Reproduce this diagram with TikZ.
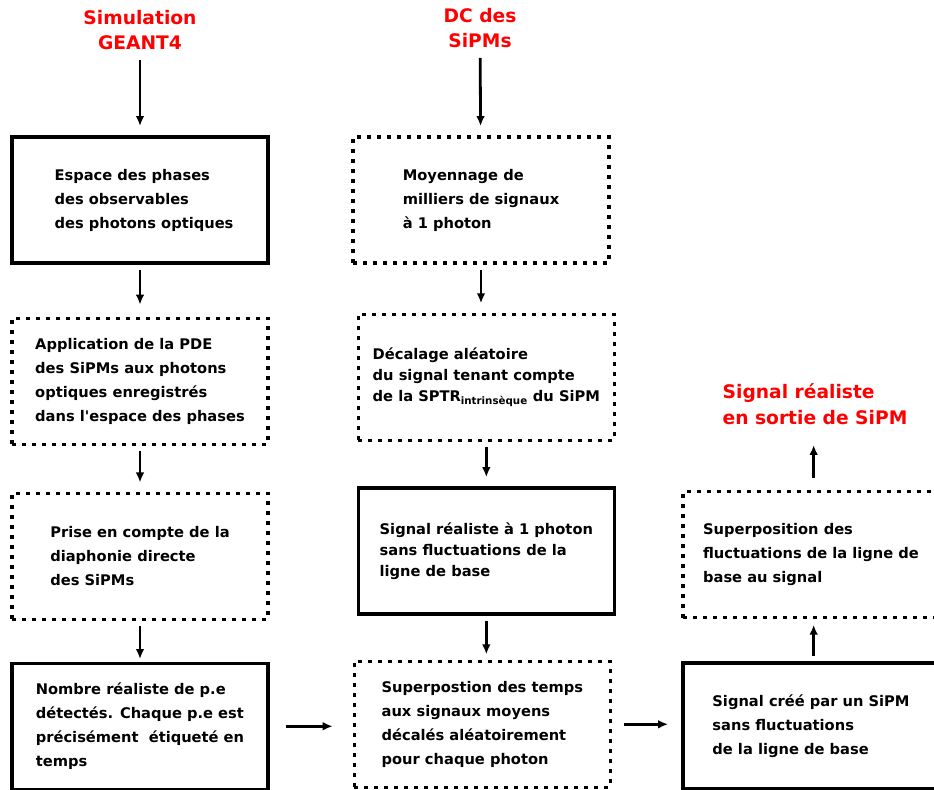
\documentclass[tikz,border=0pt]{standalone}
\usepackage{fontspec}
\setmainfont{DejaVu Sans}
\usepackage{xcolor}
\usetikzlibrary{arrows.meta, positioning}

\begin{document}
\begin{tikzpicture}[
    x=0.75pt, y=-0.75pt,
    node distance=34pt, font=\fontsize{11}{18}\selectfont\bfseries,
    stepbox/.style={draw, line width=2.4pt, minimum width=192pt, minimum height=94.5pt, align=left, inner sep=0pt},
    dotbox/.style={stepbox, dash pattern=on 3pt off 4.5pt},
    title/.style={text=red, font=\fontsize{14}{19}\selectfont\bfseries},
    >={Latex[length=7.5pt,width=6.5pt]}]
\useasboundingbox (0,0) rectangle (934,789);

% first column
\node[title, align=center] (geant) at (140,30) {Simulation\\GEANT4};
\node[stepbox] (espace) at (140,200) {\hspace*{6pt}Espace des phases\\\hspace*{6pt}des observables\\\hspace*{6pt}des photons optiques};
\node[dotbox, below=39pt of espace] (pde) {Application de la PDE\\des SiPMs aux photons\\optiques enregistrés\\dans l\textquotesingle espace des phases};
\node[dotbox, below=34.5pt of pde] (diaph) {Prise en compte de la\\diaphonie directe\\des SiPMs};
\node[stepbox, below=30.5pt of diaph] (nombre) {Nombre réaliste de p.e\\détectés. Chaque p.e est\\précisément~ étiqueté en\\temps};

% second column
\node[title, align=center] (dc) at (480,28) {DC des\\SiPMs};
\node[dotbox] (moy) at (481,200) {Moyennage de\\milliers de signaux\\à 1 photon};
\node[dotbox, below=36pt of moy, xshift=4pt, font=\fontsize{11}{16}\selectfont\bfseries] (decal) {Décalage aléatoire\\du signal tenant compte\\de la SPTR\textsubscript{intrinsèque} du SiPM};
\node[stepbox, below=33.5pt of decal, font=\fontsize{11}{15.5}\selectfont\bfseries] (unphot) {Signal réaliste à 1 photon\\sans fluctuations de la\\ligne de base};
\node[dotbox, below=33pt of unphot, xshift=-3pt] (temps) {Superpostion des temps\\aux signaux moyens\\décalés aléatoirement\\pour chaque photon};

% third column
\node[stepbox] (cree) at (811,726) {Signal créé par un SiPM\\sans fluctuations\\de la ligne de base};
\node[dotbox, above=31.5pt of cree] (fluct) {Superposition des\\fluctuations de la ligne de\\base au signal};
\node[title, align=left] (sortie) at (815,404) {Signal réaliste\\en sortie de SiPM};

\begin{scope}[line width=2.1pt]
\draw[->, shorten <=4pt, shorten >=7pt] (geant) -- (espace);
\draw[->, shorten <=4pt, shorten >=9pt] (espace) -- (pde);
\draw[->, shorten <=4pt, shorten >=7pt] (pde) -- (diaph);
\draw[->, shorten <=4pt, shorten >=2pt] (diaph) -- (nombre);
\draw[->, shorten <=4pt, shorten >=7pt] (dc) -- (moy);
\draw[->, shorten <=4pt, shorten >=7pt] (moy.south) -- (moy.south |- decal.north);
\draw[->, shorten <=4pt, shorten >=7pt] (decal) -- (unphot);
\draw[->, shorten <=4pt, shorten >=4pt] (unphot.south) -- (unphot.south |- temps.north);
\draw[->, shorten <=12pt, shorten >=15pt] (nombre.east) -- (nombre.east -| temps.west);
\draw[->, shorten <=9pt, shorten >=10pt] (temps.east) -- (temps.east -| cree.west);
\draw[->, shorten <=4pt, shorten >=4pt] ([xshift=2pt]cree.north) -- ([xshift=2pt]fluct.south);
\draw[->, shorten <=9pt, shorten >=12pt] ([xshift=2pt]fluct.north) -- ([xshift=2pt]fluct.north |- sortie.south);
\end{scope}
\end{tikzpicture}
\end{document}
